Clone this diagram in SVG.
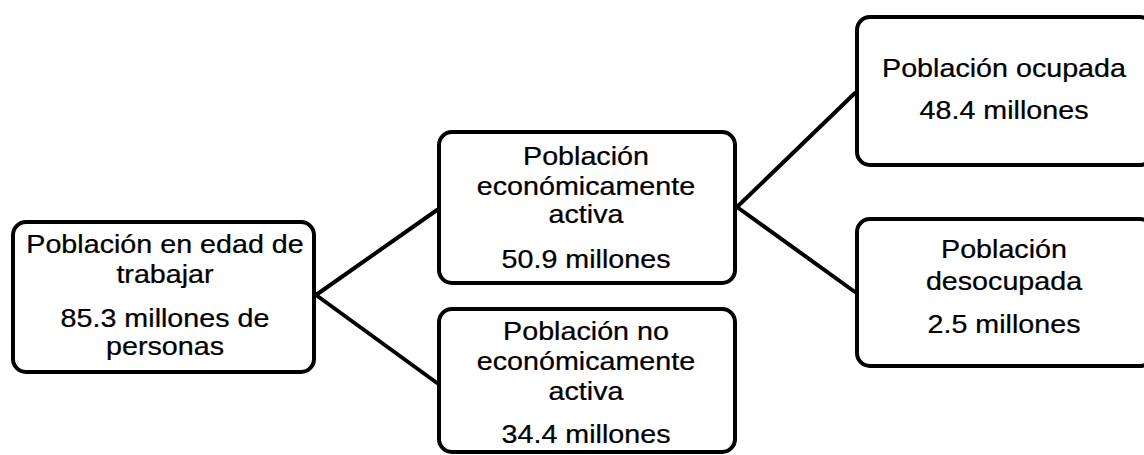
<svg xmlns="http://www.w3.org/2000/svg" width="1144" height="455" viewBox="0 0 1144 455">
  <style>
    .box { fill: #ffffff; stroke: #000000; stroke-width: 4; }
    .conn { stroke: #000000; stroke-width: 4; fill: none; stroke-linecap: round; }
    .t { font-family: "Liberation Sans", Arial, sans-serif; font-size: 25.5px; fill: #000000; stroke: #000000; stroke-width: 0.25; text-anchor: middle; }
  </style>
  <rect x="0" y="0" width="1144" height="455" fill="#ffffff"/>
  <g id="connectors">
    <line class="conn" x1="316" y1="295" x2="437" y2="210"/>
    <line class="conn" x1="316" y1="295" x2="437" y2="383"/>
    <line class="conn" x1="737" y1="207" x2="855" y2="93"/>
    <line class="conn" x1="737" y1="207" x2="855" y2="292"/>
  </g>
  <g id="node-pet">
    <rect class="box" x="13" y="222" width="301" height="150" rx="13"/>
    <text class="t" transform="translate(165,253) scale(1.125,1)">Población en edad de</text>
    <text class="t" transform="translate(165,283) scale(1.125,1)">trabajar</text>
    <text class="t" transform="translate(165,327) scale(1.125,1)">85.3 millones de</text>
    <text class="t" transform="translate(165,355) scale(1.125,1)">personas</text>
  </g>
  <g id="node-pea">
    <rect class="box" x="439" y="132" width="296" height="151" rx="13"/>
    <text class="t" transform="translate(586,165) scale(1.125,1)">Población</text>
    <text class="t" transform="translate(586,195) scale(1.125,1)">económicamente</text>
    <text class="t" transform="translate(586,223) scale(1.125,1)">activa</text>
    <text class="t" transform="translate(586,268) scale(1.125,1)">50.9 millones</text>
  </g>
  <g id="node-pnea">
    <rect class="box" x="439" y="309" width="296" height="143" rx="13"/>
    <text class="t" transform="translate(586,340) scale(1.125,1)">Población no</text>
    <text class="t" transform="translate(586,370) scale(1.125,1)">económicamente</text>
    <text class="t" transform="translate(586,400) scale(1.125,1)">activa</text>
    <text class="t" transform="translate(586,443) scale(1.125,1)">34.4 millones</text>
  </g>
  <g id="node-ocupada">
    <rect class="box" x="857" y="17" width="296" height="148" rx="13"/>
    <text class="t" transform="translate(1004,77) scale(1.125,1)">Población ocupada</text>
    <text class="t" transform="translate(1004,119) scale(1.125,1)">48.4 millones</text>
  </g>
  <g id="node-desocupada">
    <rect class="box" x="857" y="219" width="296" height="147" rx="13"/>
    <text class="t" transform="translate(1004,258) scale(1.125,1)">Población</text>
    <text class="t" transform="translate(1004,290) scale(1.125,1)">desocupada</text>
    <text class="t" transform="translate(1004,333) scale(1.125,1)">2.5 millones</text>
  </g>
</svg>
